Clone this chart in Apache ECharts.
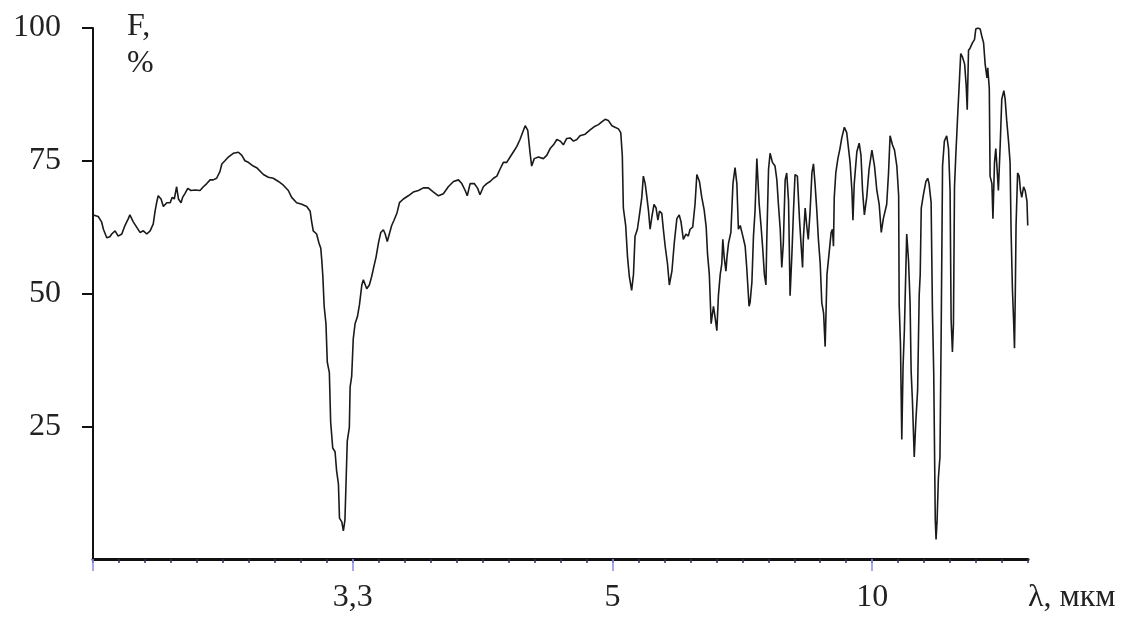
<!DOCTYPE html>
<html><head><meta charset="utf-8">
<script src="https://cdn.jsdelivr.net/npm/echarts@6.0.0/dist/echarts.min.js"></script>
<style>html,body{margin:0;padding:0;background:#fff}#c{width:1130px;height:621px}</style>
</head><body><div id="c"></div>
<script>
// wavenumber (cm-1) positions; axis is labelled in micrometres
const wavenumber = [
3999,3980,3967,3960,3947,3935,3928,3915,3903,3896,3889,3877,3864,3858,3845,3832,3819,3806,3793,3780,
3768,3761,3755,3749,3738,3729,3716,3703,3695,3687,3678,3671,3661,3655,3646,3635,3623,3607,3588,3575,
3562,3549,3537,3524,3511,3504,3492,3479,3460,3440,3427,3415,3402,3383,
3370,3344,3325,3306,3286,3267,3248,3235,3216,3196,3177,3164,3158,3152,3139,3130,3123,3119,3115,3110,
3103,3098,3090,3085,3077,3068,3062,3055,3051,3042,3036,3030,3026,3021,3013,3010,3004,2998,2991,2982,
2974,2965,2959,2946,2936,2927,2918,2910,2901,2892,2882,2875,2867,2859,2850,2841,2830,2820,2805,2786,2767,
2760,2747,2728,2709,2689,2670,2651,2632,2612,2593,2580,2567,2559,2548,2532,2519,2510,2497,2484,2471,
2458,2445,2433,2420,2407,2394,2381,2368,2356,2343,2336,2326,2317,2311,2301,2285,2266,2253,2240,2227,
2214,2201,2189,2176,2163,2150,2137,
2125,2105,2086,2067,2054,2041,2028,2016,2002,1990,1977,1968,1962,1958,1949,1942,1935,1926,1919,1913,
1904,1896,1887,1881,1874,1868,1861,1855,1848,1840,1832,1825,1819,1810,1804,1797,1788,1781,1771,1762,
1752,1743,1736,1727,1717,1708,1701,1691,1682,1675,1665,1656,1647,1639,1634,1627,1620,1611,1605,1598,
1592,1585,1579,1575,1570,1563,1559,1553,1544,1536,1528,1521,1515,1508,1498,
1489,1483,1474,1470,1463,1457,1451,1444,1435,1428,1422,1415,1409,1406,1399,1393,1384,1374,1367,1361,
1354,1348,1342,1335,1329,1322,1316,1309,1303,1297,1288,1280,1275,1268,1265,1258,1252,1246,1239,1232,
1226,1220,1213,1207,1200,1194,1187,1181,1174,1166,1158,1153,1149,1146,1140,1132,1124,1117,1107,1098,
1091,1085,1078,1074,1069,1059,1050,1043,1037,1030,1021,1012,1001,991,982,973,965,957,950,944,
937,931,922,914,905,898,896,891,886,881,876,867,860,854,850,845,838,
832,825,819,815,811,802,793,786,781,773,768,763,757,754,750,745,739,734,729,722,
713,706,700,696,691,687,683,678,671,665,659,652,644,638,634,629,623,614,606,601,
593,584,578,571,565,558,555,549,546,539,535,529,524,519,514,507,501,493,488,482,
475,469,465,460,455,452,449,446,440,434,429,424,417,411,404,401
];
// transmittance F, %
const transmittance = [
64.8,64.5,63.5,62.1,60.5,60.7,61.2,61.8,60.8,60.5,61.2,62.8,64.1,64.8,63.5,62.5,61.5,61.8,61.2,61.8,
63.1,65.5,67.1,68.4,67.8,66.4,67.1,67.1,68.1,67.8,70.1,67.8,67.1,68.1,68.8,69.8,69.4,69.5,69.4,70.1,
70.7,71.4,71.4,71.7,73.0,74.4,75.0,75.7,76.4,76.6,76.0,75.0,74.7,74.0,
73.7,72.4,71.9,71.7,71.1,70.4,69.4,68.1,67.1,66.8,66.4,65.5,63.5,61.8,61.2,59.5,58.5,56.2,53.2,47.6,
44.3,37.1,35.1,25.8,20.9,20.2,16.6,14.1,7.7,7.0,5.3,7.3,13.9,22.2,24.8,32.4,34.4,41.4,44.3,45.6,
47.9,51.6,52.6,50.9,51.6,53.2,55.2,56.9,59.5,61.5,62.0,61.2,59.8,61.2,62.8,63.8,65.1,67.1,67.8,68.4,69.1,
68.8,69.4,69.9,69.9,69.1,68.4,68.8,70.1,71.1,71.4,70.7,69.4,68.4,70.7,70.7,69.8,68.6,70.1,70.7,71.1,
71.7,72.1,73.4,74.7,74.7,75.7,76.7,77.7,79.0,80.7,81.6,80.7,76.4,74.0,75.4,75.7,75.4,76.0,77.3,78.0,
79.0,78.7,78.0,79.2,79.3,78.7,79.0,
79.7,80.0,80.8,81.5,81.8,82.3,82.8,82.6,81.6,81.3,81.0,80.3,76.0,66.1,62.8,56.9,53.2,50.6,53.6,60.8,
62.1,64.8,68.1,72.1,70.7,68.4,65.5,62.1,64.5,66.8,66.1,63.8,65.5,65.1,62.1,58.9,55.6,51.6,54.2,59.5,
64.1,64.8,63.5,60.2,61.2,60.8,62.1,62.5,66.8,72.4,71.1,68.1,65.8,62.5,57.5,53.6,44.3,47.6,45.6,43.0,
49.6,53.6,55.6,60.2,56.9,54.2,56.9,59.5,61.5,70.7,73.7,70.7,62.1,62.8,60.8,
58.9,54.9,47.6,48.3,52.2,60.8,65.5,75.4,66.8,62.8,58.9,53.6,51.6,59.5,73.4,76.4,74.7,74.0,71.4,66.8,
62.1,54.9,59.5,71.4,72.7,67.4,49.6,57.5,65.5,72.4,72.1,64.1,60.2,54.9,60.2,66.1,62.8,60.2,65.5,72.7,
74.4,70.7,65.5,60.2,55.6,48.3,46.3,40.0,53.6,57.5,61.5,62.1,58.9,68.1,72.7,75.4,77.3,79.3,81.3,80.3,
77.3,74.7,69.4,63.8,70.7,76.7,78.3,76.0,69.4,64.8,68.1,73.4,77.0,74.0,69.4,66.8,61.5,64.1,64.1,66.8,
72.7,79.7,78.0,77.0,74.0,68.4,47.9,40.4,22.5,36.4,43.0,61.2,56.2,48.3,35.4,29.8,19.2,
25.8,31.8,49.6,53.6,66.1,68.8,71.1,71.7,70.7,67.1,47.0,35.1,7.3,3.7,7.3,15.3,19.2,44.3,74.0,78.7,
79.7,77.3,69.4,45.0,39.0,44.3,70.1,76.0,83.3,89.2,95.2,94.5,93.2,89.2,84.6,95.8,96.2,97.2,97.8,99.8,
100.0,99.8,98.5,97.2,93.2,90.6,92.5,88.6,72.1,70.7,64.1,74.7,77.3,73.4,69.4,78.0,86.6,88.2,86.6,82.6,
78.7,74.7,61.5,50.9,44.3,39.7,49.6,62.8,72.7,72.1,69.4,68.1,70.1,69.4,67.4,62.8
];
const yTickValues = [25, 50, 75, 100];
const xMajorTickValues = [4000, 3000, 2000, 1000];
const xLabelValues = [3000, 2000, 1000];
const xLabelTexts = ['3,3', '5', '10'];

const FONT = '"Liberation Serif", "Times New Roman", serif';
const seriesData = wavenumber.map((w, i) => [w, transmittance[i]]);
const labelMap = {};
xLabelValues.forEach((v, i) => { labelMap[v] = xLabelTexts[i]; });

const chart = echarts.init(document.getElementById('c'), null, {renderer: 'canvas'});
chart.setOption({
  animation: false,
  backgroundColor: '#ffffff',
  grid: {left: 93, right: 102, top: 28, bottom: 62, containLabel: false},
  xAxis: [
    {
      type: 'value', min: 400, max: 4000, interval: 100, inverse: true, position: 'bottom',
      axisLine: {show: true, lineStyle: {color: '#111', width: 3}},
      axisTick: {show: true, length: 4, lineStyle: {color: '#2c2c60', width: 1.5}},
      axisLabel: {show: false},
      splitLine: {show: false}
    },
    {
      type: 'value', min: 400, max: 4000, inverse: true, position: 'bottom',
      axisLine: {show: false},
      axisTick: {show: true, customValues: xMajorTickValues, length: 12, lineStyle: {color: '#8a8ae6', width: 1.5}},
      axisLabel: {
        show: true, customValues: xLabelValues, margin: 23,
        formatter: v => labelMap[v] || '',
        fontFamily: FONT, fontSize: 32, color: '#222'
      },
      splitLine: {show: false}
    }
  ],
  yAxis: {
    type: 'value', min: 0, max: 100, interval: 25,
    axisLine: {show: true, lineStyle: {color: '#111', width: 2}},
    axisTick: {show: true, customValues: yTickValues, length: 11, lineStyle: {color: '#111', width: 2}},
    axisLabel: {show: true, customValues: yTickValues, margin: 32, fontFamily: FONT, fontSize: 32, color: '#222'},
    splitLine: {show: false}
  },
  graphic: [
    {type: 'text', left: 127, top: 11, style: {text: 'F,', font: '32px ' + FONT, fill: '#222'}},
    {type: 'text', left: 127, top: 48, style: {text: '%', font: '32px ' + FONT, fill: '#222'}},
    {type: 'text', left: 1028, top: 582, style: {text: 'λ, мкм', font: '32px ' + FONT, fill: '#222'}}
  ],
  series: [{
    type: 'line', xAxisIndex: 0, yAxisIndex: 0, data: seriesData,
    showSymbol: false, symbol: 'none', smooth: false,
    lineStyle: {color: '#1a1a1a', width: 1.6}
  }]
});
</script></body></html>
